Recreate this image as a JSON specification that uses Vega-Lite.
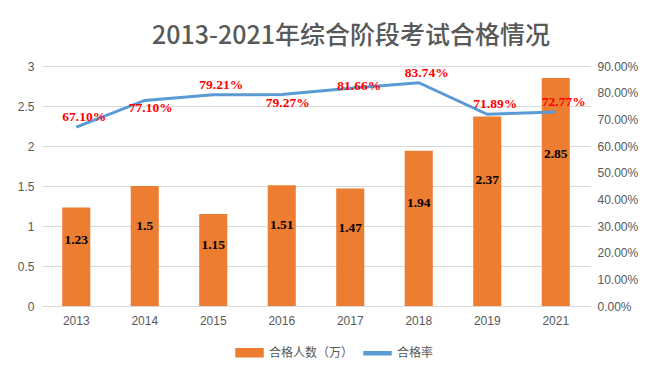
{
  "$schema": "https://vega.github.io/schema/vega-lite/v6.json",
  "width": 548,
  "height": 240,
  "autosize": {"type": "none"},
  "padding": {"left": 42, "top": 66, "right": 67, "bottom": 76},
  "background": "white",
  "config": {"view": {"stroke": null}},
  "title": {
    "text": "2013-2021年综合阶段考试合格情况",
    "font": "Noto Sans CJK SC",
    "fontSize": 25,
    "fontWeight": 500,
    "color": "#595959",
    "anchor": "middle",
    "frame": "group",
    "dx": 35,
    "offset": 11
  },
  "data": {
    "values": [
      {"year": "2013", "count": 1.23, "rate": 0.671},
      {"year": "2014", "count": 1.5, "rate": 0.771},
      {"year": "2015", "count": 1.15, "rate": 0.7921},
      {"year": "2016", "count": 1.51, "rate": 0.7927},
      {"year": "2017", "count": 1.47, "rate": 0.8166},
      {"year": "2018", "count": 1.94, "rate": 0.8374},
      {"year": "2019", "count": 2.37, "rate": 0.7189},
      {"year": "2021", "count": 2.85, "rate": 0.7277}
    ]
  },
  "encoding": {
    "x": {
      "field": "year",
      "type": "ordinal",
      "scale": {"paddingInner": 0.59, "paddingOuter": 0.295},
      "axis": {
        "title": null,
        "labelAngle": 0,
        "ticks": false,
        "domainColor": "#D9D9D9",
        "labelColor": "#595959",
        "labelFont": "Liberation Sans",
        "labelFontSize": 12,
        "labelPadding": 9
      }
    }
  },
  "layer": [
    {
      "mark": {"type": "bar", "color": "#ED7D31"},
      "encoding": {
        "y": {
          "field": "count",
          "type": "quantitative",
          "scale": {"domain": [0, 3]},
          "axis": {
            "orient": "left",
            "title": null,
            "values": [0, 0.5, 1, 1.5, 2, 2.5, 3],
            "format": ".1~f",
            "grid": true,
            "gridColor": "#D9D9D9",
            "domain": false,
            "ticks": false,
            "labelPadding": 8,
            "labelColor": "#595959",
            "labelFont": "Liberation Sans",
            "labelFontSize": 12
          }
        },
        "color": {
          "datum": "合格人数（万）",
          "type": "nominal",
          "scale": {"domain": ["合格人数（万）", "合格率"], "range": ["#ED7D31", "#5B9BD5"]},
          "legend": {
            "orient": "none",
            "legendX": 193,
            "legendY": 272,
            "direction": "horizontal",
            "title": null,
            "labelFont": "Noto Sans CJK SC",
            "labelFontSize": 12,
            "labelColor": "#595959",
            "symbolSize": 729,
            "symbolType": "M-1,-0.3H1V0.3H-1Z",
            "columnPadding": 7,
            "labelOffset": 5,
            "encode": {
              "symbols": {
                "update": {
                  "shape": {"signal": "datum.value === '合格率' ? 'M-1,-0.11H1V0.11H-1Z' : 'M-1,-0.3H1V0.3H-1Z'"},
                  "fill": {"signal": "datum.value === '合格率' ? '#5B9BD5' : '#ED7D31'"},
                  "stroke": {"value": "transparent"},
                  "opacity": {"value": 1}
                }
              }
            }
          }
        }
      }
    },
    {
      "mark": {"type": "text", "font": "Liberation Serif", "fontWeight": "bold", "fontSize": 13.5, "color": "#000000"},
      "encoding": {
        "y": {"field": "count", "type": "quantitative", "scale": {"domain": [0, 4.5]}, "axis": null},
        "text": {"field": "count", "type": "quantitative", "format": ".3~g"}
      }
    },
    {
      "mark": {"type": "line", "strokeWidth": 3, "color": "#5B9BD5"},
      "encoding": {
        "y": {
          "field": "rate",
          "type": "quantitative",
          "scale": {"domain": [0, 0.9]},
          "axis": {
            "orient": "right",
            "title": null,
            "values": [0, 0.1, 0.2, 0.3, 0.4, 0.5, 0.6, 0.7, 0.8, 0.9],
            "format": ".2%",
            "grid": false,
            "domain": false,
            "ticks": false,
            "labelPadding": 7,
            "labelColor": "#595959",
            "labelFont": "Liberation Sans",
            "labelFontSize": 12
          }
        },
        "color": {"datum": "合格率", "type": "nominal"}
      }
    },
    {
      "transform": [{"filter": "indexof(['2013','2015','2018','2019','2021'], datum.year) >= 0"}],
      "mark": {"type": "text", "font": "Liberation Serif", "fontWeight": "bold", "fontSize": 13.5, "color": "#FF0000", "dx": 8, "dy": -10},
      "encoding": {
        "y": {"field": "rate", "type": "quantitative", "scale": {"domain": [0, 0.9]}, "axis": null},
        "text": {"field": "rate", "type": "quantitative", "format": ".2%"}
      }
    },
    {
      "transform": [{"filter": "datum.year === '2014' || datum.year === '2016'"}],
      "mark": {"type": "text", "font": "Liberation Serif", "fontWeight": "bold", "fontSize": 13.5, "color": "#FF0000", "dx": 6, "dy": 8},
      "encoding": {
        "y": {"field": "rate", "type": "quantitative", "scale": {"domain": [0, 0.9]}, "axis": null},
        "text": {"field": "rate", "type": "quantitative", "format": ".2%"}
      }
    },
    {
      "transform": [{"filter": "datum.year === '2017'"}],
      "mark": {"type": "text", "font": "Liberation Serif", "fontWeight": "bold", "fontSize": 13.5, "color": "#FF0000", "dx": 9, "dy": -2},
      "encoding": {
        "y": {"field": "rate", "type": "quantitative", "scale": {"domain": [0, 0.9]}, "axis": null},
        "text": {"field": "rate", "type": "quantitative", "format": ".2%"}
      }
    }
  ],
  "resolve": {"scale": {"y": "independent"}}
}
